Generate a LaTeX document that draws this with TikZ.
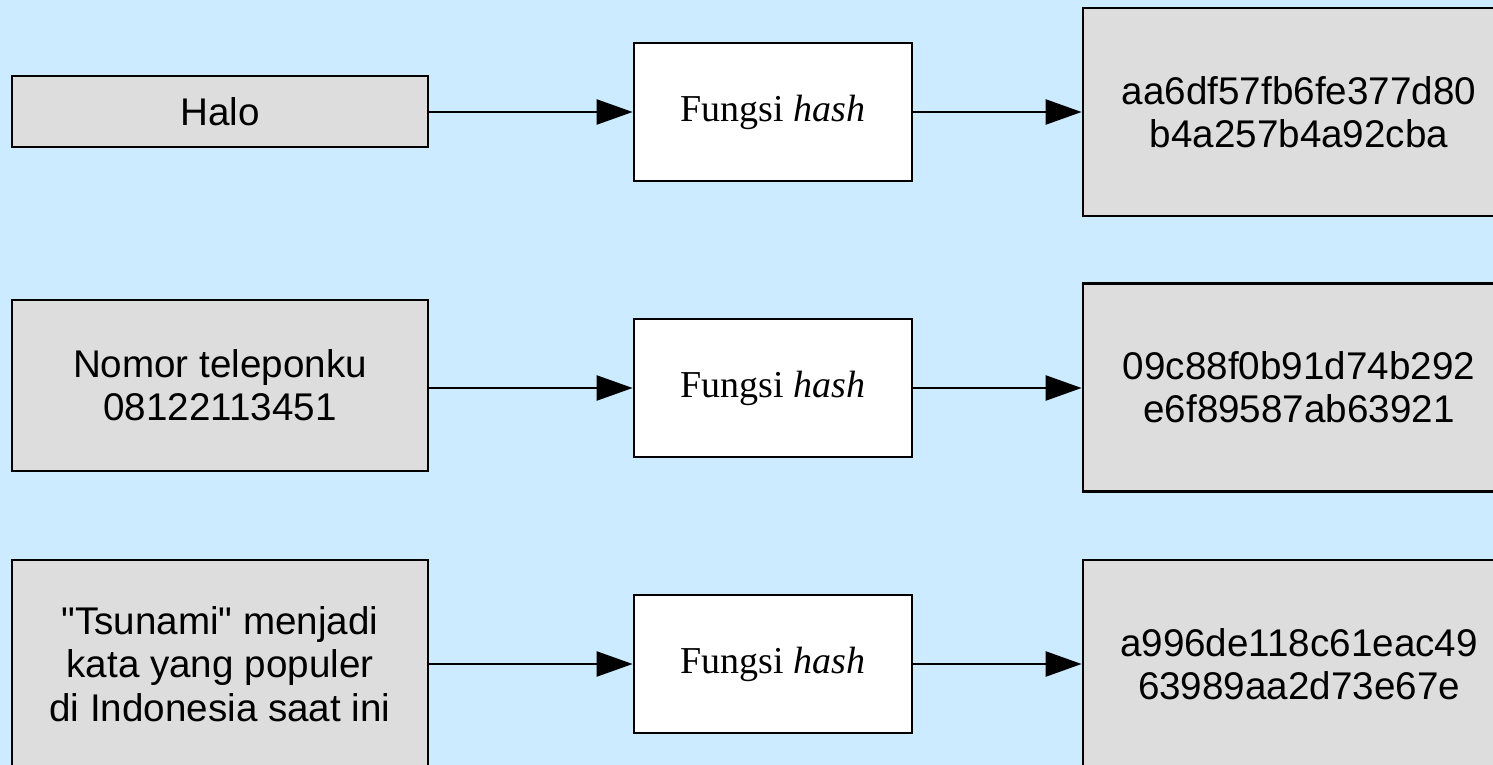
\documentclass[tikz,border=0pt]{standalone}
\usepackage{fontspec}
\setmainfont{Liberation Sans}[Ligatures=TeXOff]
\newfontfamily\serifface{Liberation Serif}
\usetikzlibrary{arrows.meta}
\definecolor{skyback}{RGB}{204,235,255}
\definecolor{boxgray}{RGB}{221,221,221}
\tikzset{
  databox/.style={draw=black, fill=boxgray, line width=1.4pt, align=center,
    font=\fontsize{19.3}{21.6}\selectfont, inner sep=0pt},
  hashbox/.style={draw=black, fill=white, line width=1.4pt, align=center,
    font=\serifface\fontsize{19}{22}\selectfont, inner sep=0pt,
    minimum width=139pt, minimum height=69pt},
  outbox/.style={databox, minimum width=216pt, minimum height=104pt},
  flow/.style={line width=1.2pt, -{Triangle[length=18pt,width=12.5pt]}}
}
\begin{document}
\begin{tikzpicture}[x=0.5pt, y=-0.5pt]
  \fill[skyback] (0,0) rectangle (1493,765);
  \useasboundingbox (0,0) rectangle (1493,765);

  % inputs
  \node[databox, minimum width=208pt, minimum height=35.5pt] (in1) at (220,111.5) {Halo};
  \node[databox, minimum width=208pt, minimum height=85.5pt] (in2) at (220,385.5) {Nomor teleponku\\08122113451};
  \node[databox, minimum width=208pt, minimum height=104pt] (in3) at (220,664) {"Tsunami" menjadi\\kata yang populer\\di Indonesia saat ini};

  % hash functions
  \node[hashbox] (h1) at (773,112) {\raisebox{-1pt}{Fungsi \textit{hash}}};
  \node[hashbox] (h2) at (773,388) {\raisebox{-1pt}{Fungsi \textit{hash}}};
  \node[hashbox] (h3) at (773,664) {\raisebox{-1pt}{Fungsi \textit{hash}}};

  % digests
  \node[outbox] (o1) at (1299,112) {aa6df57fb6fe377d80\\b4a257b4a92cba};
  \node[outbox] (o2) at (1299,387.5) {09c88f0b91d74b292\\e6f89587ab63921};
  \node[outbox] (o3) at (1299,664) {a996de118c61eac49\\63989aa2d73e67e};

  % connectors
  \draw[flow] (in1.east |- h1.west) -- (h1.west);
  \draw[flow] (in2.east |- h2.west) -- (h2.west);
  \draw[flow] (in3.east |- h3.west) -- (h3.west);
  \draw[flow] (h1.east) -- (o1.west |- h1.east);
  \draw[flow] (h2.east) -- (o2.west |- h2.east);
  \draw[flow] (h3.east) -- (o3.west |- h3.east);
\end{tikzpicture}
\end{document}
